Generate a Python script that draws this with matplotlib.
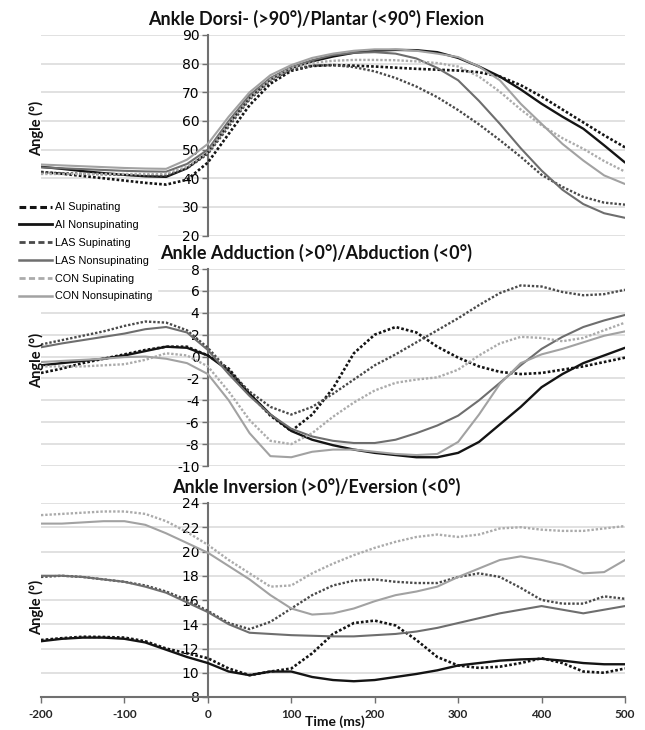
import matplotlib
matplotlib.use('Agg')
import matplotlib.pyplot as plt
from matplotlib.lines import Line2D

plt.rcParams['axes.unicode_minus'] = False

# ---------------- data ----------------
time_ms = [-200, -175, -150, -125, -100, -75, -50, -25, 0, 25, 50, 75, 100, 125, 150,
           175, 200, 225, 250, 275, 300, 325, 350, 375, 400, 425, 450, 475, 500]

series_names = ["AI Supinating", "AI Nonsupinating", "LAS Supinating",
                "LAS Nonsupinating", "CON Supinating", "CON Nonsupinating"]

# Panel 1: Ankle Dorsi/Plantar flexion (deg)
flex_ai_sup = [42.2, 41.6, 40.8, 40.0, 39.2, 38.4, 37.8, 39.5, 45.5, 55.5, 65.5, 73.0, 77.5, 79.2, 79.5,
               79.3, 79.0, 78.6, 78.2, 77.9, 77.6, 77.0, 75.5, 72.5, 68.5, 64.0, 59.5, 55.0, 50.8]
flex_ai_non = [44.0, 43.3, 42.5, 41.8, 41.2, 40.7, 40.5, 43.5, 49.0, 59.0, 68.0, 74.5, 78.5, 80.8, 82.5,
               83.8, 84.5, 84.8, 84.7, 84.0, 82.0, 79.0, 75.5, 71.0, 66.0, 61.5, 57.3, 51.5, 45.5]
flex_las_sup = [42.0, 41.8, 41.6, 41.4, 41.2, 41.0, 41.0, 43.5, 48.5, 58.0, 67.5, 74.0, 78.0, 79.3, 79.5,
                78.8, 77.3, 75.0, 72.0, 68.3, 63.8, 58.8, 53.3, 47.5, 41.2, 37.0, 33.5, 31.5, 30.8]
flex_las_non = [43.8, 43.5, 43.2, 42.9, 42.6, 42.4, 42.3, 45.0, 50.0, 60.0, 69.0, 75.0, 78.8, 81.2, 83.0,
                83.8, 84.0, 83.5, 81.8, 78.5, 74.2, 67.0, 59.0, 50.5, 42.7, 36.0, 31.0, 27.8, 26.2]
flex_con_sup = [41.5, 41.5, 41.5, 41.5, 41.5, 41.5, 41.6, 44.0, 49.0, 59.0, 68.0, 74.5, 78.5, 80.3, 81.0,
                81.3, 81.3, 81.2, 80.8, 80.2, 79.0, 75.5, 70.2, 64.0, 58.5, 54.0, 50.3, 46.0, 42.3]
flex_con_non = [44.8, 44.5, 44.2, 43.9, 43.6, 43.4, 43.3, 46.5, 52.0, 61.5, 70.0, 76.0, 79.5, 82.0, 83.5,
                84.5, 85.0, 85.0, 84.5, 83.5, 82.3, 79.0, 74.2, 66.0, 59.0, 52.0, 46.2, 41.0, 38.0]

# Panel 2: Ankle Adduction/Abduction (deg)
add_ai_sup = [-1.5, -1.1, -0.6, -0.2, 0.2, 0.6, 0.9, 0.9, 0.1, -1.1, -3.4, -5.4, -6.8, -5.3, -2.9,
              0.3, 2.0, 2.7, 2.2, 0.9, -0.1, -0.9, -1.4, -1.6, -1.5, -1.2, -0.9, -0.5, -0.1]
add_ai_non = [-0.8, -0.6, -0.4, -0.2, 0.1, 0.5, 0.9, 0.8, 0.1, -1.3, -3.4, -5.3, -6.8, -7.6, -8.1,
              -8.5, -8.8, -9.0, -9.2, -9.2, -8.8, -7.8, -6.2, -4.6, -2.8, -1.6, -0.6, 0.1, 0.8]
add_las_sup = [1.1, 1.5, 1.9, 2.3, 2.8, 3.2, 3.1, 2.4, 0.8, -1.3, -3.2, -4.6, -5.3, -4.6, -3.4,
               -2.1, -0.8, 0.2, 1.3, 2.4, 3.5, 4.7, 5.8, 6.5, 6.4, 5.9, 5.6, 5.7, 6.1]
add_las_non = [0.85, 1.2, 1.5, 1.8, 2.1, 2.5, 2.7, 2.2, 0.6, -1.6, -3.6, -5.3, -6.6, -7.3, -7.7,
               -7.9, -7.9, -7.6, -7.0, -6.3, -5.4, -4.0, -2.4, -0.8, 0.7, 1.8, 2.7, 3.3, 3.8]
add_con_sup = [-0.9, -0.9, -0.9, -0.8, -0.7, -0.3, 0.3, 0.1, -0.9, -3.2, -5.8, -7.7, -8.0, -7.0, -5.5,
               -4.2, -3.1, -2.4, -2.1, -1.9, -1.2, 0.1, 1.2, 1.8, 1.7, 1.4, 1.7, 2.4, 3.1]
add_con_non = [-0.5, -0.4, -0.3, -0.2, -0.05, 0.0, -0.2, -0.6, -1.6, -4.0, -7.0, -9.1, -9.2, -8.7, -8.5,
               -8.5, -8.7, -8.9, -9.0, -8.9, -7.8, -5.3, -2.5, -0.6, 0.2, 0.7, 1.3, 1.9, 2.3]

# Panel 3: Ankle Inversion/Eversion (deg)
inv_ai_sup = [12.7, 12.85, 12.97, 12.95, 12.9, 12.6, 12.0, 11.6, 11.2, 10.35, 9.8, 10.1, 10.35, 11.6, 13.2,
              14.1, 14.3, 13.9, 12.7, 11.3, 10.6, 10.4, 10.5, 10.8, 11.2, 10.8, 10.1, 10.0, 10.35]
inv_ai_non = [12.6, 12.8, 12.9, 12.9, 12.8, 12.5, 11.9, 11.3, 10.8, 10.1, 9.8, 10.1, 10.1, 9.65, 9.4,
              9.3, 9.4, 9.65, 9.9, 10.2, 10.6, 10.8, 11.0, 11.1, 11.15, 11.0, 10.8, 10.7, 10.7]
inv_las_sup = [17.9, 18.0, 17.9, 17.7, 17.5, 17.2, 16.7, 16.0, 15.1, 14.1, 13.6, 14.2, 15.3, 16.4, 17.2,
               17.6, 17.7, 17.5, 17.4, 17.4, 17.9, 18.2, 17.9, 17.0, 16.0, 15.7, 15.7, 16.3, 16.1]
inv_las_non = [18.0, 18.0, 17.9, 17.7, 17.5, 17.1, 16.6, 15.8, 15.0, 14.0, 13.3, 13.2, 13.1, 13.05, 13.0,
               13.0, 13.1, 13.2, 13.4, 13.7, 14.1, 14.5, 14.9, 15.2, 15.5, 15.2, 14.9, 15.2, 15.5]
inv_con_sup = [23.0, 23.1, 23.2, 23.3, 23.3, 23.1, 22.5, 21.6, 20.55, 19.3, 18.2, 17.1, 17.2, 18.2, 19.0,
               19.7, 20.3, 20.8, 21.2, 21.4, 21.2, 21.4, 21.9, 22.0, 21.8, 21.7, 21.7, 21.9, 22.1]
inv_con_non = [22.3, 22.3, 22.4, 22.5, 22.5, 22.2, 21.5, 20.7, 19.9, 18.8, 17.7, 16.4, 15.3, 14.8, 14.9,
               15.3, 15.9, 16.4, 16.7, 17.1, 17.9, 18.6, 19.3, 19.6, 19.3, 18.9, 18.2, 18.3, 19.3]

panel_titles = ["Ankle Dorsi- (>90°)/Plantar (<90°) Flexion",
                "Ankle Adduction (>0°)/Abduction (<0°)",
                "Ankle Inversion (>0°)/Eversion (<0°)"]
flex_ticks = [20, 30, 40, 50, 60, 70, 80, 90]
add_ticks = [-10, -8, -6, -4, -2, 0, 2, 4, 6, 8]
inv_ticks = [8, 10, 12, 14, 16, 18, 20, 22, 24]
x_ticks = [-200, -100, 0, 100, 200, 300, 400, 500]

# ---------------- styles ----------------
DOT = (0, (1.0, 0.8))
styles = [
    dict(color='#141414', ls=DOT, lw=1.9),
    dict(color='#141414', ls='-', lw=1.7),
    dict(color='#4a4a4a', ls=DOT, lw=1.7),
    dict(color='#6e6e6e', ls='-', lw=1.5),
    dict(color='#ababab', ls=DOT, lw=1.7),
    dict(color='#a2a2a2', ls='-', lw=1.5),
]

W, H = 645, 730
fig = plt.figure(figsize=(W / 100, H / 100), dpi=100)
fig.patch.set_facecolor('white')

def fx(px):
    return px / W

def fy(py):
    return 1 - py / H

ax_left, ax_right = 41, 625
panels = [
    (35, 235.6, (20, 90), flex_ticks,
     [flex_ai_sup, flex_ai_non, flex_las_sup, flex_las_non, flex_con_sup, flex_con_non], False),
    (269, 466, (-10, 8), add_ticks,
     [add_ai_sup, add_ai_non, add_las_sup, add_las_non, add_con_sup, add_con_non], False),
    (503, 697, (8, 24), inv_ticks,
     [inv_ai_sup, inv_ai_non, inv_las_sup, inv_las_non, inv_con_sup, inv_con_non], True),
]

title_y = [19, 253, 487]
ylabel_y = [128, 360, 607]
tick_font = dict(family='Lato', weight='bold', size=8.5, color='#262626')

axes = []
for i, (top, bot, ylim, yt, data, show_x) in enumerate(panels):
    ax = fig.add_axes([fx(ax_left), fy(bot), fx(ax_right) - fx(ax_left), (bot - top) / H])
    ax.set_facecolor('none')
    for d, st in zip(data, styles):
        ax.plot(time_ms, d, color=st['color'], linestyle=st['ls'], linewidth=st['lw'],
                zorder=3, solid_capstyle='round', solid_joinstyle='round')
    ax.set_xlim(-200, 500)
    ax.set_ylim(*ylim)
    ax.set_yticks(yt, labels=[str(v) for v in yt], **tick_font)
    ax.spines['left'].set_position(('data', 0))
    ax.spines['left'].set_color('#707070')
    ax.spines['left'].set_linewidth(1.5)
    ax.spines['top'].set_visible(False)
    ax.spines['right'].set_visible(False)
    ax.tick_params(axis='y', direction='out', length=4, width=1, color='#707070', pad=2)
    if show_x:
        ax.spines['bottom'].set_color('#707070')
        ax.spines['bottom'].set_linewidth(1.5)
        ax.set_xticks(x_ticks, labels=[str(v) for v in x_ticks], **tick_font)
        ax.tick_params(axis='x', direction='out', length=4, width=1, color='#707070', pad=5)
    else:
        ax.spines['bottom'].set_visible(False)
        ax.tick_params(axis='x', bottom=False, labelbottom=False)
    ax.grid(axis='y', color='#dedede', linewidth=1.3)
    ax.grid(axis='x', visible=False)
    ax.set_axisbelow(True)
    fig.text(fx(316), fy(title_y[i]), panel_titles[i], ha='center', va='center',
             family='Lato', weight='bold', size=13, color='#111111')
    fig.text(fx(37), fy(ylabel_y[i]), 'Angle (°)', ha='center', va='center', rotation=90,
             family='Lato', weight='bold', size=10.5, color='#111111')
    axes.append(ax)

fig.text(fx(335), fy(722), 'Time (ms)', ha='center', va='center',
         family='Lato', weight='bold', size=10, color='#111111')

# legend proxies (dashed look as in reference legend)
handles = []
for st in styles:
    ls = (0, (2.2, 1.2)) if st['ls'] != '-' else '-'
    handles.append(Line2D([0], [0], color=st['color'], linestyle=ls, linewidth=st['lw'] + 0.3))
leg = fig.legend(handles, series_names, loc='upper left', bbox_to_anchor=(fx(14), fy(197)),
                 frameon=True, fancybox=False, framealpha=1, facecolor='white', edgecolor='white',
                 prop=dict(family='Liberation Sans', size=7.8), handlelength=3.05,
                 handletextpad=0.2, labelspacing=0.72, borderpad=0.5, borderaxespad=0)
leg.set_zorder(10)

fig.savefig('out.png', dpi=100, facecolor='white')
